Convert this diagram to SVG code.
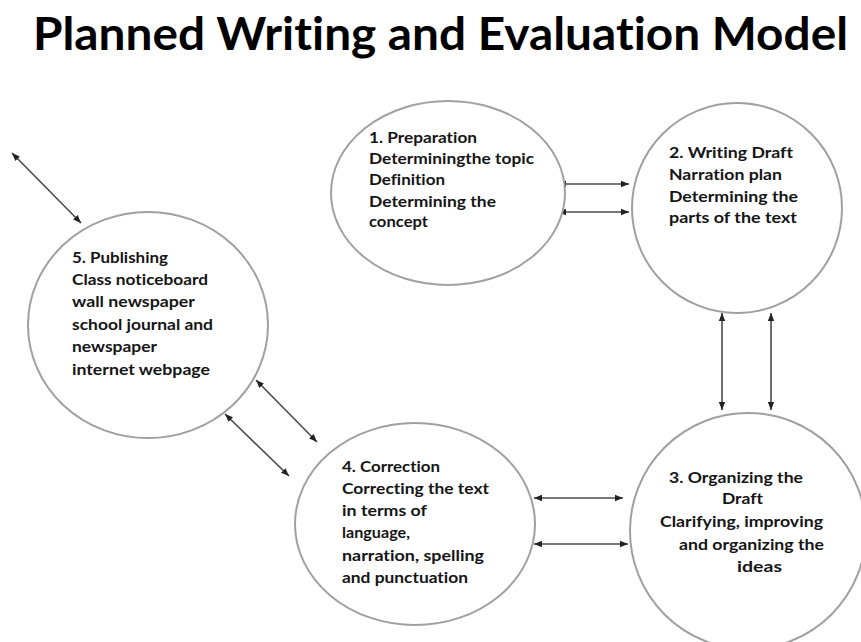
<svg xmlns="http://www.w3.org/2000/svg" width="861" height="642" viewBox="0 0 861 642">
<defs>
<marker id="ah" viewBox="0 0 10 10" refX="10" refY="5" markerWidth="8" markerHeight="8" markerUnits="userSpaceOnUse" orient="auto-start-reverse">
<path d="M0,1 L10,5 L0,9 z" fill="#222"/>
</marker>
<style>
.node{fill:#fff;stroke:#a0a0a0;stroke-width:2}
.t{font-family:Lato,"Liberation Sans",sans-serif;font-weight:bold;font-size:16px;fill:#151515;font-variant-ligatures:none}
.c{stroke:#4a4a4a;stroke-width:1.6;fill:none;marker-start:url(#ah);marker-end:url(#ah)}
.title{font-family:Lato,"Liberation Sans",sans-serif;font-weight:bold;font-size:46px;fill:#000;font-variant-ligatures:none}
</style>
</defs>
<rect width="861" height="642" fill="#fff"/>
<text class="title" x="33" y="50" textLength="815" lengthAdjust="spacingAndGlyphs">Planned Writing and Evaluation Model</text>

<g id="connectors">
<line class="c" x1="558" y1="184" x2="629" y2="184"/>
<line class="c" x1="558" y1="212" x2="629" y2="212"/>
<line class="c" x1="722" y1="313" x2="722" y2="410"/>
<line class="c" x1="771" y1="313" x2="771" y2="410"/>
<line class="c" x1="534" y1="498" x2="623" y2="498"/>
<line class="c" x1="534" y1="544" x2="628" y2="544"/>
<line class="c" x1="256" y1="380" x2="317" y2="442"/>
<line class="c" x1="225" y1="414" x2="289" y2="476"/>
<line class="c" x1="12" y1="153" x2="81" y2="223"/>
</g>

<g id="node1">
<ellipse class="node" cx="448" cy="193" rx="117" ry="92"/>
<text class="t" x="369" y="143" textLength="108" lengthAdjust="spacingAndGlyphs">1. Preparation</text>
<text class="t" x="369" y="164" textLength="165" lengthAdjust="spacingAndGlyphs">Determiningthe topic</text>
<text class="t" x="369" y="185" textLength="76" lengthAdjust="spacingAndGlyphs">Definition</text>
<text class="t" x="369" y="207" textLength="127" lengthAdjust="spacingAndGlyphs">Determining the</text>
<text class="t" x="369" y="227" font-size="15" textLength="59" lengthAdjust="spacingAndGlyphs">concept</text>
</g>

<g id="node2">
<circle class="node" cx="737" cy="208" r="105"/>
<text class="t" x="669" y="158" textLength="124" lengthAdjust="spacingAndGlyphs">2. Writing Draft</text>
<text class="t" x="669" y="180" textLength="113" lengthAdjust="spacingAndGlyphs">Narration plan</text>
<text class="t" x="669" y="202" textLength="129" lengthAdjust="spacingAndGlyphs">Determining the</text>
<text class="t" x="669" y="223" textLength="128" lengthAdjust="spacingAndGlyphs">parts of the text</text>
</g>

<g id="node3">
<circle class="node" cx="748" cy="531" r="118"/>
<text class="t" x="669" y="483" textLength="134" lengthAdjust="spacingAndGlyphs">3. Organizing the</text>
<text class="t" x="722" y="504" textLength="41" lengthAdjust="spacingAndGlyphs">Draft</text>
<text class="t" x="660" y="527" textLength="163" lengthAdjust="spacingAndGlyphs">Clarifying, improving</text>
<text class="t" x="679" y="550" textLength="145" lengthAdjust="spacingAndGlyphs">and organizing the</text>
<text class="t" x="737" y="572" textLength="45" lengthAdjust="spacingAndGlyphs">ideas</text>
</g>

<g id="node4">
<ellipse class="node" cx="415" cy="524" rx="120" ry="101"/>
<text class="t" x="342" y="472" textLength="98" lengthAdjust="spacingAndGlyphs">4. Correction</text>
<text class="t" x="342" y="494" textLength="147" lengthAdjust="spacingAndGlyphs">Correcting the text</text>
<text class="t" x="342" y="516" textLength="85" lengthAdjust="spacingAndGlyphs">in terms of</text>
<text class="t" x="342" y="538" textLength="68" lengthAdjust="spacingAndGlyphs">language,</text>
<text class="t" x="342" y="561" textLength="142" lengthAdjust="spacingAndGlyphs">narration, spelling</text>
<text class="t" x="342" y="583" textLength="126" lengthAdjust="spacingAndGlyphs">and punctuation</text>
</g>

<g id="node5">
<ellipse class="node" cx="148" cy="325" rx="120" ry="113"/>
<text class="t" x="72" y="263" textLength="96" lengthAdjust="spacingAndGlyphs">5. Publishing</text>
<text class="t" x="72" y="285" textLength="136" lengthAdjust="spacingAndGlyphs">Class noticeboard</text>
<text class="t" x="72" y="307" textLength="123" lengthAdjust="spacingAndGlyphs">wall newspaper</text>
<text class="t" x="72" y="330" textLength="141" lengthAdjust="spacingAndGlyphs">school journal and</text>
<text class="t" x="72" y="352" textLength="85" lengthAdjust="spacingAndGlyphs">newspaper</text>
<text class="t" x="72" y="375" textLength="138" lengthAdjust="spacingAndGlyphs">internet webpage</text>
</g>
</svg>
